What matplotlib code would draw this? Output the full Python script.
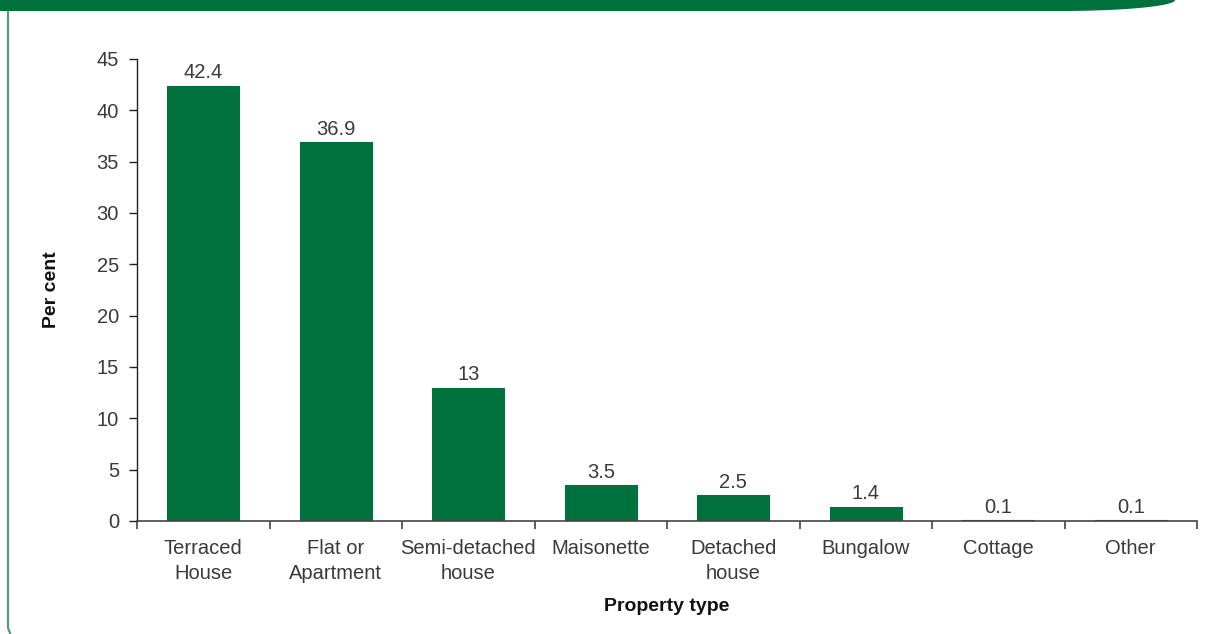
import numpy as np
import matplotlib
matplotlib.use("Agg")
import matplotlib.pyplot as plt
from matplotlib.patches import Polygon
from matplotlib.lines import Line2D

categories = ["Terraced\nHouse", "Flat or\nApartment", "Semi-detached\nhouse", "Maisonette",
              "Detached\nhouse", "Bungalow", "Cottage", "Other"]
values = [42.4, 36.9, 13, 3.5, 2.5, 1.4, 0.1, 0.1]
value_labels = ["42.4", "36.9", "13", "3.5", "2.5", "1.4", "0.1", "0.1"]
yticks = [0, 5, 10, 15, 20, 25, 30, 35, 40, 45]

GREEN = "#00703C"
TEXT = "#3a3a3a"
FS = 14.5

plt.rcParams['font.family'] = ['Liberation Sans', 'DejaVu Sans']

W, H = 1219, 634
fig = plt.figure(figsize=(W / 100, H / 100), dpi=100)

left_px, right_px, top_px, bottom_px = 137, 1197, 59, 521
ax = fig.add_axes([left_px / W, 1 - bottom_px / H, (right_px - left_px) / W, (bottom_px - top_px) / H])

x = np.arange(len(categories))
ax.bar(x, values, width=0.54, color=GREEN, edgecolor=GREEN, linewidth=0.8, zorder=2)
for xi, v, lab in zip(x, values, value_labels):
    ax.annotate(lab, (xi, v), xytext=(0, 2.5), textcoords="offset points",
                ha="center", va="bottom", fontsize=FS, color=TEXT)

ax.set_xlim(-0.5, len(categories) - 0.5)
ax.set_ylim(0, 45)
ax.set_yticks(yticks)
ax.set_xticks(x)
ax.set_xticklabels(categories, fontsize=FS, color=TEXT, linespacing=1.38)
ax.set_xticks(np.arange(-0.5, len(categories)), minor=True)
ax.tick_params(axis="x", which="major", length=0, pad=13)
ax.tick_params(axis="x", which="minor", length=6, width=1.2, color="#444444", direction="out")
ax.tick_params(axis="y", length=6, width=1.0, color="#222222", labelsize=FS, labelcolor=TEXT, pad=7)

for s in ["top", "right"]:
    ax.spines[s].set_visible(False)
ax.spines["left"].set_color("#222222")
ax.spines["left"].set_linewidth(1.0)
ax.spines["bottom"].set_color("#444444")
ax.spines["bottom"].set_linewidth(1.2)

ax.set_ylabel("Per cent", fontsize=14, fontweight="bold", color="#111111", labelpad=26)
ax.set_xlabel("Property type", fontsize=14, fontweight="bold", color="#111111", labelpad=11)

# decorative banner at top
t = np.linspace(0, np.pi / 2, 60)
curve_x = 1060 + 115 * np.sin(t)
curve_y = 11 * np.cos(t)  # pixels from top
pts = [(0, 0), (0, 11)] + list(zip(curve_x, curve_y)) + [(1175, 0)]
pts_fig = [(px / W, 1 - py / H) for px, py in pts]
fig.patches.append(Polygon(pts_fig, closed=True, transform=fig.transFigure,
                           facecolor=GREEN, edgecolor="none", zorder=5))

# left border line
fig.lines.append(Line2D([8 / W, 8 / W, 10 / W], [1 - 11 / H, 1 - 628 / H, 1 - 633 / H],
                        transform=fig.transFigure, color="#4f9e74", linewidth=1.6))

fig.savefig("out.png", dpi=100, facecolor="white")
